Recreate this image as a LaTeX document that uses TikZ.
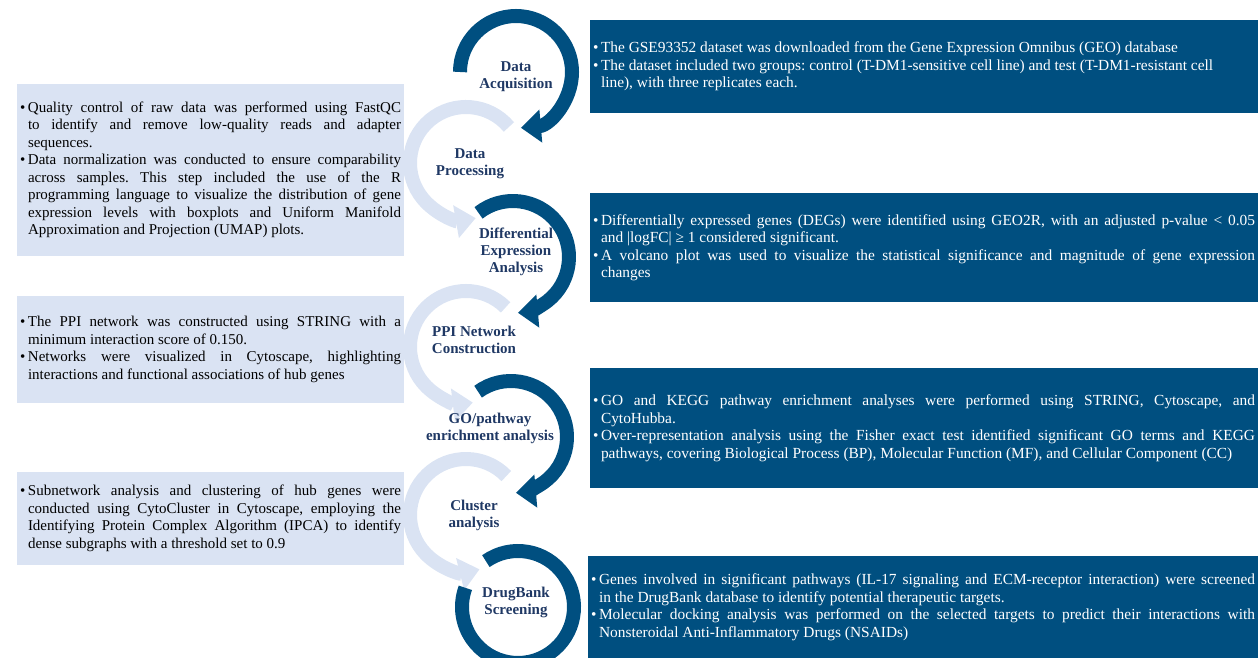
\documentclass[tikz,border=0pt]{standalone}
\usepackage{fontspec}
\setmainfont{Liberation Serif}
\usetikzlibrary{arrows.meta}

\definecolor{navy}{RGB}{0,79,128}
\definecolor{paleblue}{RGB}{218,227,243}
\definecolor{labelblue}{RGB}{31,56,100}

\hyphenpenalty=10000
\exhyphenpenalty=10000
\frenchspacing
\newcommand\bitem{\par\noindent\hangindent=8pt\hangafter=1\makebox[8pt][l]{\textbullet}}

\begin{document}
\begin{tikzpicture}[x=1pt,y=1pt,
                    darkbox/.style={fill=navy,text=white,inner xsep=3pt,inner ysep=0pt,font={\fontsize{15.4}{17.5}\selectfont},
                                    execute at begin node={\begin{minipage}{#1}},execute at end node={\end{minipage}}},
                    darkbox/.default=662pt,
                    palebox/.style={fill=paleblue,text=black,inner xsep=3pt,inner ysep=0pt,font={\fontsize{15}{17.5}\selectfont},
                                    execute at begin node={\begin{minipage}{381pt}},execute at end node={\end{minipage}}},
                    steplabel/.style={text=labelblue,align=center,font={\fontsize{15}{17}\selectfont\bfseries}},
                    darkarc/.style={draw=navy,line width=14pt},
                    palearc/.style={draw=paleblue,line width=14pt},
                    bigtip/.style={-{Triangle[width=32pt,length=20pt]}}
]
\useasboundingbox (0,0) rectangle (1258,658);
\clip (0,0) rectangle (1258,658);

% centres of the rings
\coordinate (acq) at (516,586);
\coordinate (proc) at (466,495);
\coordinate (deg) at (513,401);
\coordinate (ppi) at (466,311);
\coordinate (go) at (511,221);
\coordinate (clu) at (466,143);
\coordinate (drug) at (518,51);

% pale rings on the left
\draw[palearc,bigtip] (proc) ++(40:56) arc[start angle=40,end angle=280,radius=56];
\draw[palearc,bigtip] (ppi) ++(45:56) arc[start angle=45,end angle=277,radius=56];
\draw[palearc,bigtip] (clu) ++(44:56) arc[start angle=44,end angle=284,radius=56];

% dark rings on the right
\draw[darkarc,bigtip] (acq) ++(180:56) arc[start angle=180,end angle=-85,radius=56];
\draw[darkarc,bigtip] (deg) ++(128:56) arc[start angle=128,end angle=-85,radius=56];
\draw[darkarc,bigtip] (go) ++(126:56) arc[start angle=126,end angle=-85,radius=56];
\draw[darkarc] (drug) ++(125:56) arc[start angle=125,end angle=-200,radius=56];

% step names
\node[steplabel] (acqname) at (516,581.5) {Data\\Acquisition};
\node[steplabel] (procname) at (470,494) {Data\\Processing};
\node[steplabel] (degname) at (516,406) {Differential\\Expression\\Analysis};
\node[steplabel] (ppiname) at (474,318) {PPI Network\\Construction};
\node[steplabel] (goname) at (490,230) {GO/pathway\\enrichment analysis};
\node[steplabel] (cluname) at (474,143) {Cluster\\analysis};
\node[steplabel] (drugname) at (516,56) {DrugBank\\Screening};

% dark boxes
\node[darkbox,minimum width=668pt,minimum height=93pt] (acqbox) at (924,591.5) {\raggedright
\bitem The GSE93352 dataset was downloaded from the Gene Expression Omnibus (GEO) database
\bitem The dataset included two groups: control (T-DM1-sensitive cell line) and test (T-DM1-resistant cell\newline line), with three replicates each.\par};
\node[darkbox,minimum width=668pt,minimum height=109pt] (degbox) at (924,410.5) {%
\bitem Differentially expressed genes (DEGs) were identified using GEO2R, with an adjusted p-value < 0.05\linebreak and |logFC| ≥ 1 considered significant.
\bitem A volcano plot was used to visualize the statistical significance and magnitude of gene expression\linebreak changes\par};
\node[darkbox,minimum width=668pt,minimum height=120pt] (gobox) at (924,230) {%
\bitem GO and KEGG pathway enrichment analyses were performed using STRING, Cytoscape, and\linebreak CytoHubba.
\bitem Over-representation analysis using the Fisher exact test identified significant GO terms and KEGG\linebreak pathways, covering Biological Process (BP), Molecular Function (MF), and Cellular Component (CC)\par};
\node[darkbox=664pt,minimum width=670pt,minimum height=102pt] (drugbox) at (923,51) {%
\bitem Genes involved in significant pathways (IL-17 signaling and ECM-receptor interaction) were screened\linebreak in the DrugBank database to identify potential therapeutic targets.
\bitem Molecular docking analysis was performed on the selected targets to predict their interactions with\linebreak Nonsteroidal Anti-Inflammatory Drugs (NSAIDs)\par};

% pale boxes
\node[palebox,minimum width=387pt,minimum height=172pt] (procbox) at (210.5,488) {%
\bitem Quality control of raw data was performed using FastQC\linebreak to identify and remove low-quality reads and adapter\linebreak sequences.
\bitem Data normalization was conducted to ensure comparability\linebreak across samples. This step included the use of the R\linebreak programming language to visualize the distribution of gene\linebreak expression levels with boxplots and Uniform Manifold\linebreak Approximation and Projection (UMAP) plots.\par};
\node[palebox,minimum width=387pt,minimum height=107pt] (ppibox) at (210.5,308.5) {%
\bitem The PPI network was constructed using STRING with a\linebreak minimum interaction score of 0.150.
\bitem Networks were visualized in Cytoscape, highlighting\linebreak interactions and functional associations of hub genes\par};
\node[palebox,minimum width=387pt,minimum height=93pt] (clubox) at (210.5,139.5) {%
\bitem Subnetwork analysis and clustering of hub genes were\linebreak conducted using CytoCluster in Cytoscape, employing the\linebreak Identifying Protein Complex Algorithm (IPCA) to identify\linebreak dense subgraphs with a threshold set to 0.9\par};
\end{tikzpicture}
\end{document}
